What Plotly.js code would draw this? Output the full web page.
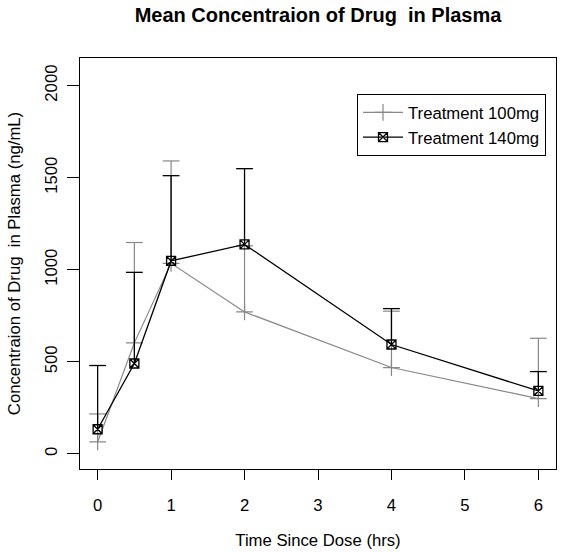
<!DOCTYPE html>
<html>
<head>
<meta charset="utf-8">
<script src="https://cdn.plot.ly/plotly-3.0.1.min.js"></script>
<style>html,body{margin:0;padding:0;background:#fff;}#chart{width:563px;height:552px;}</style>
</head>
<body>
<div id="chart"></div>
<script>
// Data
const timeHrs = [0, 0.5, 1, 2, 4, 6];
const mean100 = [65, 603, 1035, 771, 469, 300];
const upper100 = [217, 1148, 1591, 1130, 775, 628];
const mean140 = [134, 491, 1048, 1138, 594, 342];
const upper140 = [480, 986, 1511, 1549, 789, 447];
const seriesNames = ['Treatment 100mg', 'Treatment 140mg'];
const xTicks = [0, 1, 2, 3, 4, 5, 6];
const yTicks = [0, 500, 1000, 1500, 2000];

const GRAY = '#888888';
const BLACK = '#000000';
const FONT = 'Liberation Sans, Arial, Helvetica, sans-serif';

function barSegments(x, lo, hi) {
  const xs = [], ys = [];
  for (let i = 0; i < x.length; i++) {
    xs.push(x[i], x[i], null);
    ys.push(lo[i], hi[i], null);
  }
  return {xs, ys};
}

const seg100 = barSegments(timeHrs, mean100, upper100);
const seg140 = barSegments(timeHrs, mean140, upper140);

const traces = [
  // 100mg error bars
  {x: seg100.xs, y: seg100.ys, mode: 'lines', line: {color: GRAY, width: 1.2},
   showlegend: false, hoverinfo: 'skip'},
  {x: timeHrs, y: upper100, mode: 'markers', showlegend: false, hoverinfo: 'skip',
   marker: {symbol: 'line-ew-open', size: 12, color: GRAY, line: {color: GRAY, width: 1.2}}},
  // 100mg mean line
  {x: timeHrs, y: mean100, name: seriesNames[0], mode: 'lines+markers',
   line: {color: GRAY, width: 1.2},
   marker: {symbol: 'cross-thin-open', size: 12, color: GRAY, line: {color: GRAY, width: 1.2}}},
  // 140mg error bars
  {x: seg140.xs, y: seg140.ys, mode: 'lines', line: {color: BLACK, width: 1.3},
   showlegend: false, hoverinfo: 'skip'},
  {x: timeHrs, y: upper140, mode: 'markers', showlegend: false, hoverinfo: 'skip',
   marker: {symbol: 'line-ew-open', size: 12, color: BLACK, line: {color: BLACK, width: 1.3}}},
  // 140mg mean line
  {x: timeHrs, y: mean140, name: seriesNames[1], mode: 'lines+markers',
   line: {color: BLACK, width: 1.3},
   marker: {symbol: 'square-x-open', size: 9, color: BLACK, line: {color: BLACK, width: 1.3}}}
];

const layout = {
  width: 563, height: 552,
  margin: {l: 80, r: 7, t: 58, b: 83},
  paper_bgcolor: '#fff', plot_bgcolor: '#fff',
  font: {family: FONT, size: 16.7, color: '#000'},
  title: {text: '<b>Mean Concentraion of Drug  in Plasma</b>',
          font: {family: FONT, size: 20, color: '#000'},
          x: 0.5, xref: 'paper', xanchor: 'center', y: 1 - 15/552, yanchor: 'middle'},
  xaxis: {
    range: [-0.24, 6.24], tickmode: 'array', tickvals: xTicks, ticktext: xTicks.map(String),
    showgrid: false, zeroline: false, showline: true, mirror: true, linecolor: '#000', linewidth: 1,
    ticks: 'outside', ticklen: 10, tickcolor: '#000', tickwidth: 1,
    ticklabelstandoff: 11,
    title: {text: 'Time Since Dose (hrs)', font: {family: FONT, size: 16.7}, standoff: 20}
  },
  yaxis: {
    range: [-82, 2150], tickmode: 'array', tickvals: yTicks, ticktext: yTicks.map(String),
    tickangle: -90,
    showgrid: false, zeroline: false, showline: true, mirror: true, linecolor: '#000', linewidth: 1,
    ticks: 'outside', ticklen: 12, tickcolor: '#000', tickwidth: 1,
    ticklabelstandoff: 3,
    title: {text: 'Concentraion of Drug  in Plasma (ng/mL)', font: {family: FONT, size: 16.7}, standoff: 17}
  },
  legend: {
    x: (357 - 80) / 476, xanchor: 'left', y: (469 - 94) / 411, yanchor: 'top',
    bgcolor: '#fff', bordercolor: '#000', borderwidth: 1,
    font: {family: FONT, size: 16.7, color: '#000'},
    itemwidth: 40, tracegroupgap: 0
  },
  showlegend: true
};

Plotly.newPlot('chart', traces, layout, {displayModeBar: false, staticPlot: true});
</script>
</body>
</html>
